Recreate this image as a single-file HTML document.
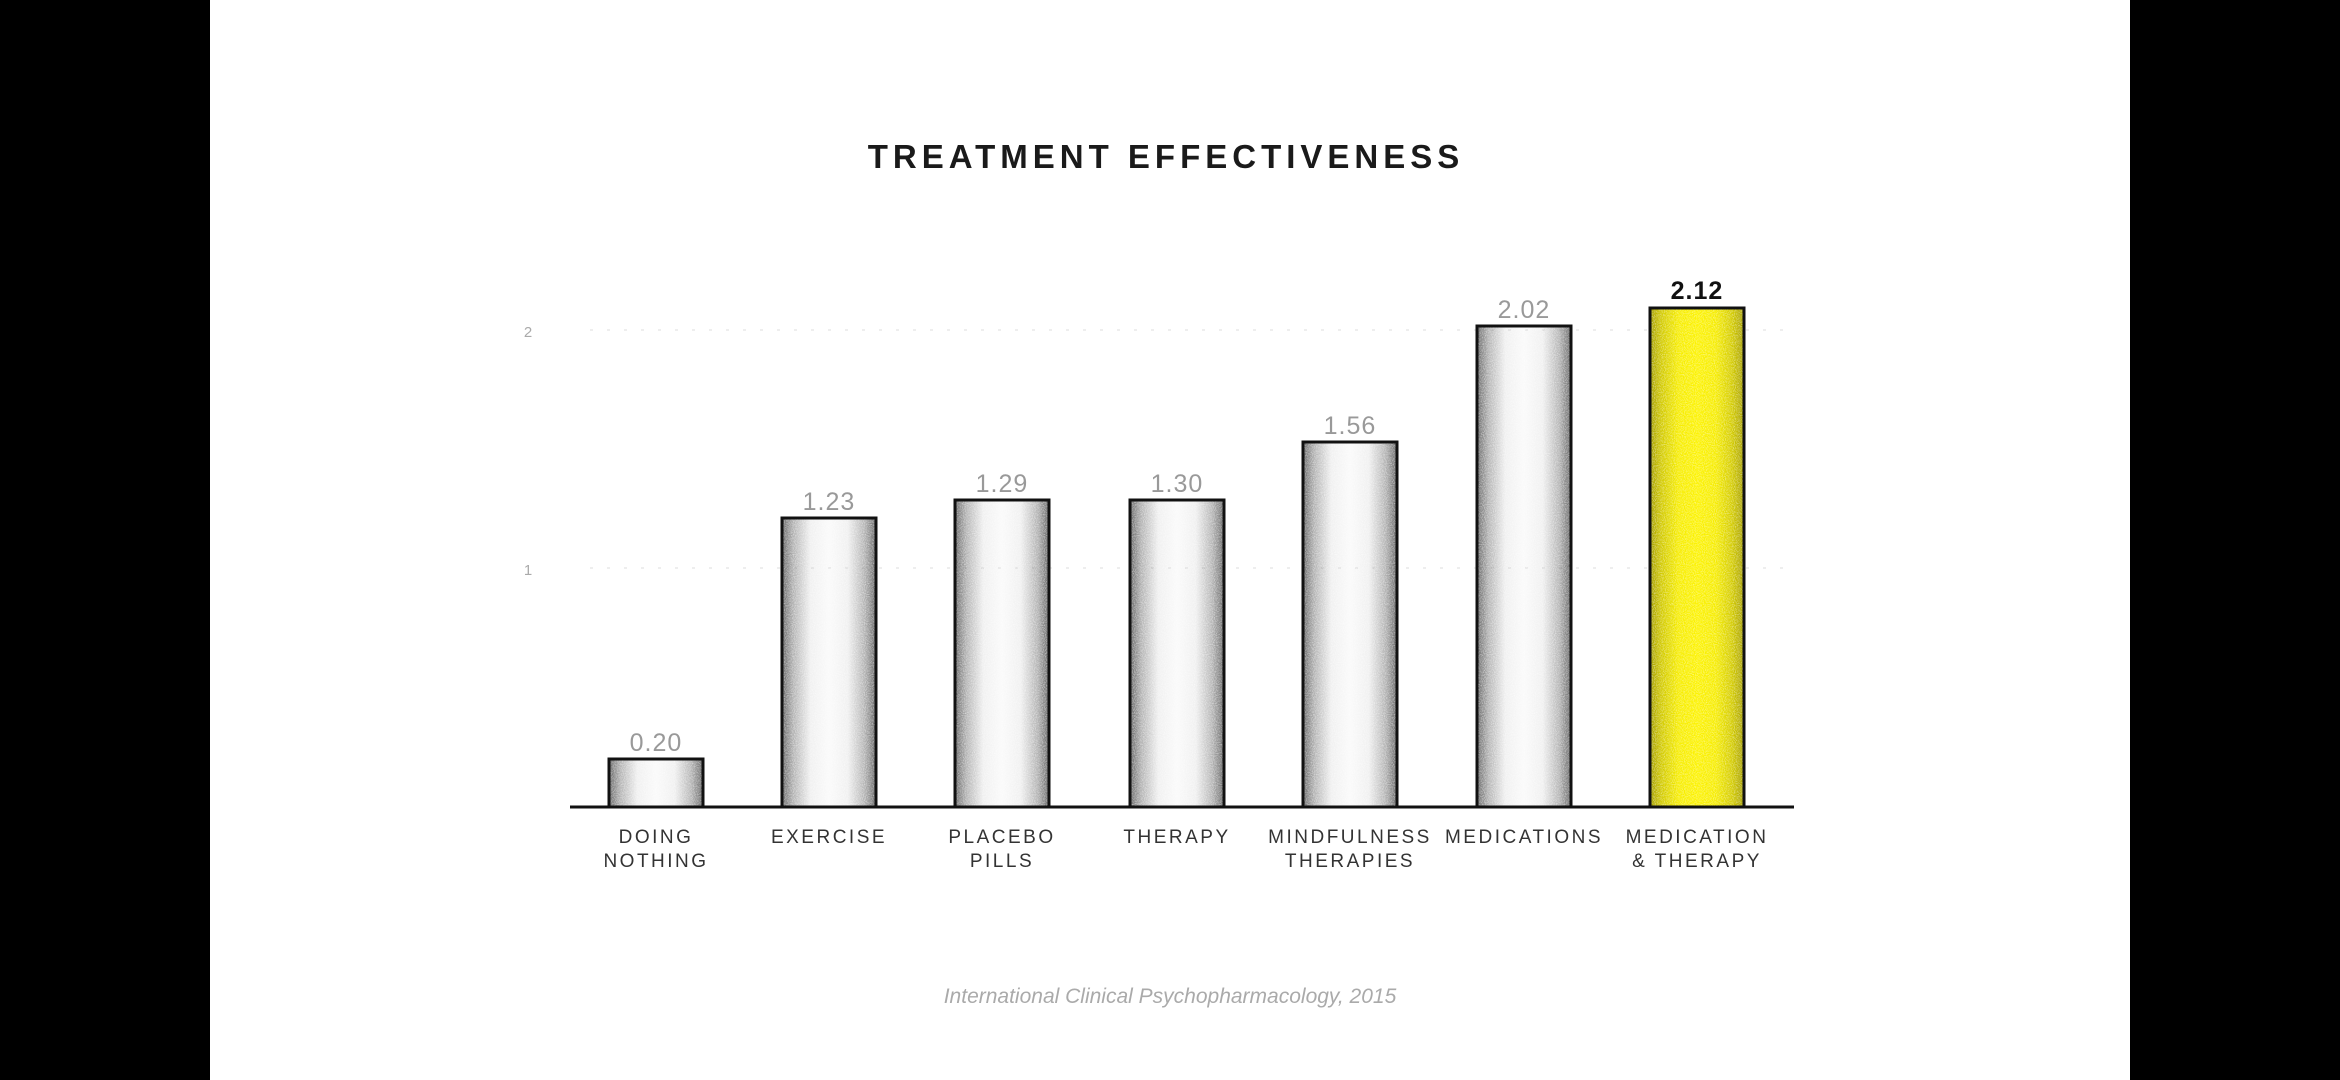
<!DOCTYPE html>
<html><head><meta charset="utf-8"><style>
html,body{margin:0;padding:0;background:#000;}
svg{display:block;}
text{font-family:"Liberation Sans",sans-serif;}
</style></head><body>
<svg width="2340" height="1080" viewBox="0 0 2340 1080" xmlns="http://www.w3.org/2000/svg">
<defs>
<linearGradient id="gh" x1="0" x2="1" y1="0" y2="0">
<stop offset="0" stop-color="#000" stop-opacity="0.6"/>
<stop offset="0.12" stop-color="#000" stop-opacity="0.3"/>
<stop offset="0.3" stop-color="#000" stop-opacity="0.06"/>
<stop offset="0.5" stop-color="#000" stop-opacity="0.02"/>
<stop offset="0.7" stop-color="#000" stop-opacity="0.06"/>
<stop offset="0.88" stop-color="#000" stop-opacity="0.3"/>
<stop offset="1" stop-color="#000" stop-opacity="0.6"/>
</linearGradient>
<filter id="noise" x="0" y="0" width="100%" height="100%">
<feTurbulence type="fractalNoise" baseFrequency="0.9" numOctaves="2" seed="3" result="t"/>
<feColorMatrix in="t" type="matrix" values="0 0 0 0 1  0 0 0 0 1  0 0 0 0 1  0 0 0 -2.2 1.4" result="w"/>
<feComposite in="w" in2="SourceGraphic" operator="in"/>
</filter>
</defs>
<rect x="210" y="0" width="1920" height="1080" fill="#fff"/>
<text x="1166" y="168" text-anchor="middle" font-size="33" font-weight="bold" letter-spacing="5" fill="#1a1a1a">TREATMENT EFFECTIVENESS</text>
<line x1="590" y1="330" x2="1794" y2="330" stroke="#eee" stroke-width="2" stroke-dasharray="3 14"/>
<line x1="590" y1="568" x2="1794" y2="568" stroke="#eee" stroke-width="2" stroke-dasharray="3 14"/>
<text x="528" y="337" font-size="15" fill="#aaa" text-anchor="middle">2</text>
<text x="528" y="575" font-size="15" fill="#aaa" text-anchor="middle">1</text>
<g>
<rect x="609" y="759" width="94" height="48" fill="url(#gh)"/>
<rect x="609" y="759" width="94" height="48" fill="#fff" filter="url(#noise)" opacity="0.5"/>
<rect x="609" y="759" width="94" height="48" fill="none" stroke="#111" stroke-width="3"/>
</g>
<g>
<rect x="782" y="518" width="94" height="289" fill="url(#gh)"/>
<rect x="782" y="518" width="94" height="289" fill="#fff" filter="url(#noise)" opacity="0.5"/>
<rect x="782" y="518" width="94" height="289" fill="none" stroke="#111" stroke-width="3"/>
</g>
<g>
<rect x="955" y="500" width="94" height="307" fill="url(#gh)"/>
<rect x="955" y="500" width="94" height="307" fill="#fff" filter="url(#noise)" opacity="0.5"/>
<rect x="955" y="500" width="94" height="307" fill="none" stroke="#111" stroke-width="3"/>
</g>
<g>
<rect x="1130" y="500" width="94" height="307" fill="url(#gh)"/>
<rect x="1130" y="500" width="94" height="307" fill="#fff" filter="url(#noise)" opacity="0.5"/>
<rect x="1130" y="500" width="94" height="307" fill="none" stroke="#111" stroke-width="3"/>
</g>
<g>
<rect x="1303" y="442" width="94" height="365" fill="url(#gh)"/>
<rect x="1303" y="442" width="94" height="365" fill="#fff" filter="url(#noise)" opacity="0.5"/>
<rect x="1303" y="442" width="94" height="365" fill="none" stroke="#111" stroke-width="3"/>
</g>
<g>
<rect x="1477" y="326" width="94" height="481" fill="url(#gh)"/>
<rect x="1477" y="326" width="94" height="481" fill="#fff" filter="url(#noise)" opacity="0.5"/>
<rect x="1477" y="326" width="94" height="481" fill="none" stroke="#111" stroke-width="3"/>
</g>
<g>
<rect x="1650" y="308" width="94" height="499" fill="#fff500"/>
<rect x="1650" y="308" width="94" height="499" fill="url(#gh)" opacity="0.6"/>
<rect x="1650" y="308" width="94" height="499" fill="#fff500" filter="url(#noise)" opacity="0.5"/>
<rect x="1650" y="308" width="94" height="499" fill="none" stroke="#111" stroke-width="3"/>
</g>
<line x1="570" y1="807" x2="1794" y2="807" stroke="#111" stroke-width="3"/>
<g font-size="25" fill="#999" text-anchor="middle" letter-spacing="1">
<text x="656" y="751">0.20</text>
<text x="829" y="510">1.23</text>
<text x="1002" y="492">1.29</text>
<text x="1177" y="492">1.30</text>
<text x="1350" y="434">1.56</text>
<text x="1524" y="318">2.02</text>
</g>
<text x="1697" y="299" font-size="25" font-weight="bold" fill="#111" text-anchor="middle" letter-spacing="1">2.12</text>
<g font-size="19" fill="#333" text-anchor="middle" letter-spacing="2.5">
<text x="656" y="843">DOING</text><text x="656" y="867">NOTHING</text>
<text x="829" y="843">EXERCISE</text>
<text x="1002" y="843">PLACEBO</text><text x="1002" y="867">PILLS</text>
<text x="1177" y="843">THERAPY</text>
<text x="1350" y="843">MINDFULNESS</text><text x="1350" y="867">THERAPIES</text>
<text x="1524" y="843">MEDICATIONS</text>
<text x="1697" y="843">MEDICATION</text><text x="1697" y="867">&amp; THERAPY</text>
</g>
<text x="1170" y="1003" font-size="21" font-style="italic" fill="#aaa" text-anchor="middle">International Clinical Psychopharmacology, 2015</text>
</svg>
</body></html>
